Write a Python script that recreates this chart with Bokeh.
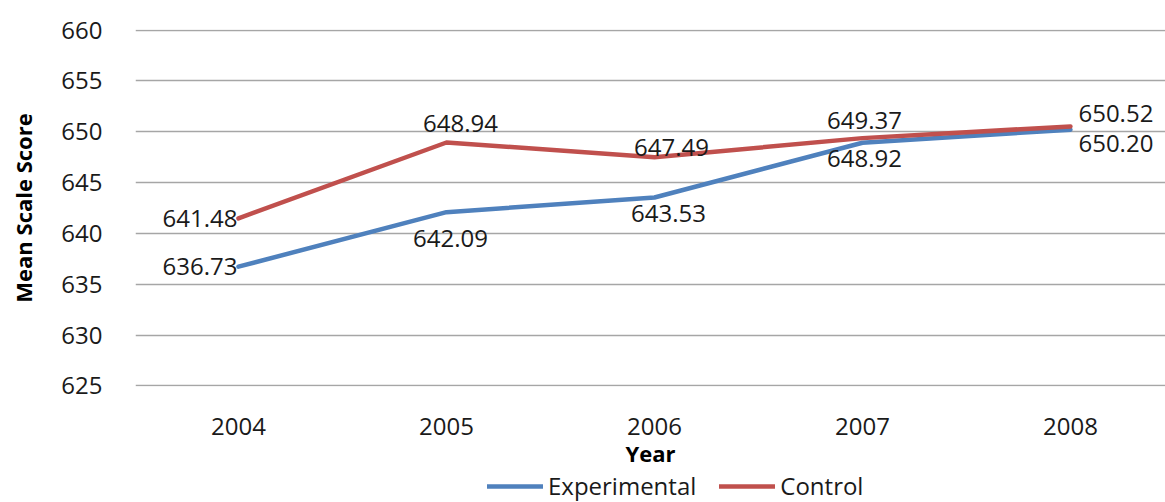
from bokeh.plotting import figure
from bokeh.layouts import column
from bokeh.models import ColumnDataSource, FixedTicker, Legend, LegendItem
from bokeh.core.properties import value
from bokeh.embed import file_html
from bokeh.resources import INLINE

years = ["2004", "2005", "2006", "2007", "2008"]
experimental = [636.73, 642.09, 643.53, 648.92, 650.20]
control = [641.48, 648.94, 647.49, 649.37, 650.52]
y_ticks = [625, 630, 635, 640, 645, 650, 655, 660]
series_names = ["Experimental", "Control"]

FONT = "Open Sans"
BLUE = "#4F81BD"
RED = "#C0504D"

xs = list(range(len(years)))

p = figure(width=1165, height=470, output_backend="svg", toolbar_location=None,
           x_range=(-0.495, 4.457), y_range=(624.95, 660.05),
           min_border_left=135, min_border_right=0, min_border_top=29, min_border_bottom=84)
p.outline_line_color = None
p.background_fill_color = "white"
p.border_fill_color = "white"

# axes
p.xaxis.ticker = FixedTicker(ticks=xs)
p.xaxis.major_label_overrides = {i: y for i, y in enumerate(years)}
p.yaxis.ticker = FixedTicker(ticks=y_ticks)
for ax in (p.xaxis[0], p.yaxis[0]):
    ax.axis_line_color = None
    ax.major_tick_line_color = None
    ax.minor_tick_line_color = None
    ax.major_label_text_font = FONT
    ax.major_label_text_font_size = "24px"
    ax.major_label_text_color = "#1a1a1a"
    ax.axis_label_text_font = FONT
    ax.axis_label_text_font_size = "22px"
    ax.axis_label_text_font_style = "bold"
    ax.axis_label_text_color = "black"
p.xaxis.axis_label = "Year"
p.yaxis.axis_label = "Mean Scale Score"
p.xaxis.major_label_standoff = 25
p.xaxis.axis_label_standoff = 0
p.yaxis.major_label_standoff = 27
p.yaxis.axis_label_standoff = 20

p.xgrid.grid_line_color = None
p.ygrid.grid_line_color = "#a6a6a6"
p.ygrid.grid_line_width = 1.5

src = ColumnDataSource(dict(x=xs, exp=experimental, ctrl=control))

p.line("x", "exp", source=src, line_color=BLUE, line_width=4.5, line_cap="round", line_join="round")
p.line("x", "ctrl", source=src, line_color=RED, line_width=4.5, line_cap="round", line_join="round")

# data labels (per point placement)
exp_align = ["right", "center", "center", "center", "left"]
exp_dx = [-1, 4, 14, 2, 8]
exp_dy = [0, 26, 16, 16, 14]
ctrl_align = ["right", "center", "center", "center", "left"]
ctrl_dx = [-1, 14, 17, 2, 8]
ctrl_dy = [0, -19, -10, -18, -13]

lsrc = ColumnDataSource(dict(
    x=xs + xs,
    y=experimental + control,
    t=[f"{v:.2f}" for v in experimental] + [f"{v:.2f}" for v in control],
    align=exp_align + ctrl_align,
    dx=exp_dx + ctrl_dx,
    dy=exp_dy + ctrl_dy,
))
p.text("x", "y", text="t", source=lsrc, text_align="align", text_baseline="middle",
       x_offset="dx", y_offset="dy", text_font=value(FONT), text_font_size="24px",
       text_color="#1a1a1a")

# legend strip below the chart (its frame is aligned with the main frame)
lg = figure(width=1165, height=32, output_backend="svg", toolbar_location=None,
            x_range=(0, 1030), y_range=(0, 32),
            min_border_left=135, min_border_right=0, min_border_top=0, min_border_bottom=0)
lg.axis.visible = False
lg.grid.visible = False
lg.outline_line_color = None
lg.border_fill_color = "white"
# same series drawn here only to supply legend glyphs; they fall outside this strip's range
d_exp = lg.line("x", "exp", source=src, line_color=BLUE, line_width=4.5, line_cap="round")
d_ctrl = lg.line("x", "ctrl", source=src, line_color=RED, line_width=4.5, line_cap="round")
legend = Legend(items=[LegendItem(label=series_names[0], renderers=[d_exp]),
                       LegendItem(label=series_names[1], renderers=[d_ctrl])],
                orientation="horizontal", location=(352, 0),
                glyph_width=56, glyph_height=24, label_height=24, label_standoff=5,
                spacing=23, padding=0, margin=0,
                label_text_font=FONT, label_text_font_size="24px", label_text_color="#1a1a1a",
                border_line_color=None, background_fill_alpha=0)
lg.add_layout(legend, "center")

layout = column(p, lg, spacing=0)
open("out.html", "w").write(file_html(layout, INLINE))
